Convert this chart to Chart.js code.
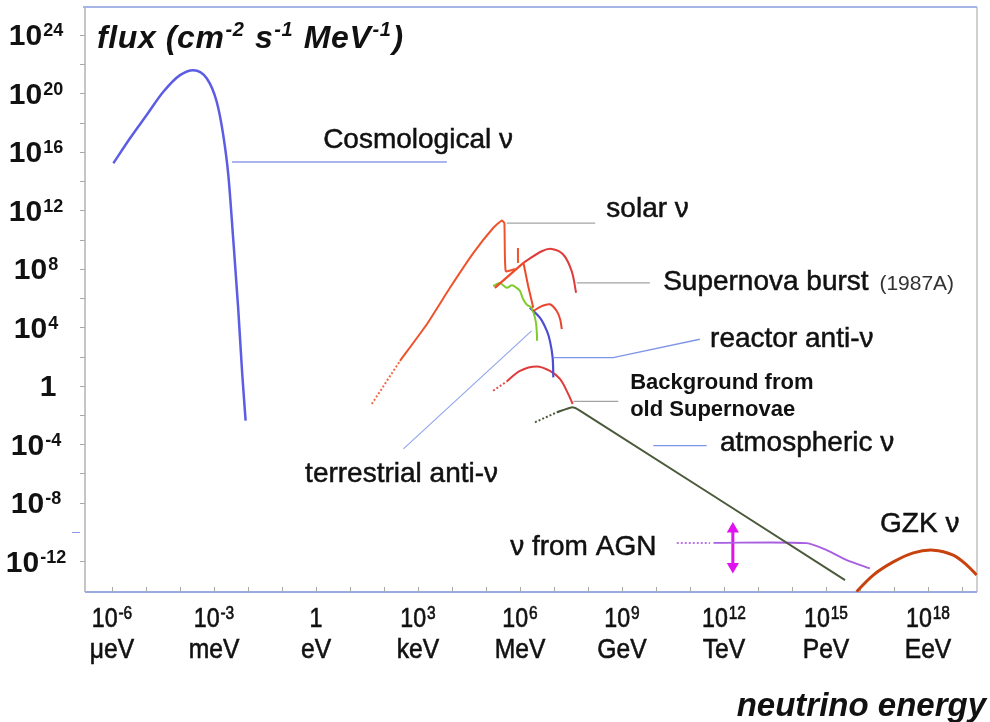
<!DOCTYPE html>
<html>
<head>
<meta charset="utf-8">
<script src="https://cdn.jsdelivr.net/npm/chart.js@4"></script>
<style>
  body { margin: 0; background: #fff; }
  #wrap { width: 990px; height: 722px; position: relative; }
</style>
</head>
<body>
<div id="wrap"><canvas id="flux-chart"></canvas></div>
<script>
// all values are [log10(E / eV), log10(flux)]

const xDecades = [-6, -3, 0, 3, 6, 9, 12, 15, 18];
const xUnits = ['\u03bceV', 'meV', 'eV', 'keV', 'MeV', 'GeV', 'TeV', 'PeV', 'EeV'];
const yDecades = [24, 20, 16, 12, 8, 4, 0, -4, -8, -12];

const cosmological = [[-5.96, 15.22], [-5.47, 16.93], [-4.98, 18.52], [-4.49, 20.11], [-4.0, 21.25],
  [-3.61, 21.59], [-3.21, 21.02], [-2.92, 19.43], [-2.73, 17.18], [-2.58, 14.45], [-2.43, 9.89],
  [-2.29, 5.34], [-2.17, 0.82], [-2.07, -2.39]];

const solarDotted = [[1.64, -1.25], [2.47, 1.70]];
const solar = [[2.47, 1.70], [3.26, 4.21], [3.94, 6.70], [4.63, 9.09], [5.21, 10.79], [5.46, 11.30],
  [5.54, 11.13], [5.58, 7.84], [5.85, 7.98]];
const solarBe = [[5.94, 9.43], [5.94, 8.39]];
const solarLow = [[5.26, 6.70], [6.10, 8.41]];
const solarB8 = [[6.10, 8.41], [6.24, 6.82], [6.39, 5.34]];

const supernova = [[6.10, 8.41], [6.64, 9.20], [6.93, 9.36], [7.27, 8.98], [7.52, 7.84], [7.65, 6.36]];
const supernovaSmall = [[6.39, 5.11], [6.64, 5.45], [6.88, 5.57], [7.08, 5.11], [7.18, 4.55], [7.23, 3.87]];

const terrestrial = [[5.21, 6.82], [5.41, 7.02], [5.61, 6.70], [5.76, 6.87], [5.90, 6.70], [6.0, 6.48],
  [6.09, 5.93], [6.21, 5.52], [6.32, 5.39], [6.41, 4.91], [6.47, 4.30], [6.5, 3.41], [6.5, 3.07]];

const reactor = [[6.29, 5.34], [6.59, 4.64], [6.79, 3.75], [6.88, 3.07], [6.96, 1.93], [6.98, 0.57]];

const relicDotted = [[5.21, -0.34], [5.61, 0.29]];
const relic = [[5.61, 0.29], [6.0, 1.02], [6.49, 1.32], [6.88, 1.02], [7.18, 0.46], [7.42, -0.57], [7.55, -1.25]];

const atmosDotted = [[6.44, -2.50], [7.08, -1.82]];
const atmos = [[7.08, -1.82], [7.52, -1.48], [7.76, -1.70], [15.56, -13.30]];

const agnDotted = [[10.61, -10.75], [11.59, -10.75]];
const agn = [[11.69, -10.75], [14.43, -10.77], [15.02, -11.25], [15.61, -11.93], [16.29, -12.50]];
const agnRange = [[12.26, -9.80], [12.26, -12.36]];

const gzk = [[15.90, -14.09], [16.39, -12.95], [16.98, -12.05], [17.57, -11.43], [18.16, -11.25],
  [18.74, -11.59], [19.14, -12.27], [19.43, -12.95]];

// leader lines from curves to their labels
const leadCosmo = [[-2.47, 15.31], [3.85, 15.31]];
const leadSolar = [[5.61, 11.13], [8.21, 11.13]];
const leadSupernova = [[7.67, 7.04], [9.82, 7.04]];
const leadReactor = [[6.98, 1.93], [8.74, 1.93], [11.29, 3.18]];
const leadTerrestrial = [[2.57, -4.32], [6.34, 3.75]];
const leadRelic = [[7.57, -1.07], [8.89, -1.07]];
const leadAtmos = [[9.92, -4.09], [11.49, -4.09]];

const labels = [
  { text: 'Cosmological \u03bd', at: [0.21, 16.25] },
  { text: 'solar \u03bd', at: [8.54, 11.52] },
  { text: 'Supernova burst', at: [10.21, 6.52], extra: '(1987A)' },
  { text: 'reactor anti-\u03bd', at: [11.59, 2.66] },
  { text: 'Background from', at: [9.24, -0.22], bold: true },
  { text: 'old Supernovae', at: [9.24, -2.05], bold: true },
  { text: 'atmospheric \u03bd', at: [11.88, -4.43] },
  { text: 'terrestrial anti-\u03bd', at: [-0.32, -6.61] },
  { text: '\u03bd from AGN', at: [5.71, -11.59] },
  { text: 'GZK \u03bd', at: [16.59, -10.02] }
];

const toPoints = arr => arr.map(p => ({ x: Math.pow(10, p[0]), y: Math.pow(10, p[1]) }));

function line(data, color, width, opts = {}) {
  return Object.assign({
    data: toPoints(data),
    showLine: true,
    borderColor: color,
    borderWidth: width,
    pointRadius: 0,
    tension: 0.35,
    fill: false
  }, opts);
}

const dotted = { borderDash: [2, 2], tension: 0 };
const straight = { tension: 0 };

const datasets = [
  line(leadCosmo, '#8f9be8', 1.5, straight),
  line(leadSolar, '#a3a3a3', 1.3, straight),
  line(leadSupernova, '#a3a3a3', 1.3, straight),
  line(leadReactor, '#7f95e6', 1.3, straight),
  line(leadTerrestrial, '#8ea3ee', 1.1, straight),
  line(leadRelic, '#a3a3a3', 1.3, straight),
  line(leadAtmos, '#7f95e6', 1.3, straight),
  line(cosmological, '#5c5ce4', 2.5, { cubicInterpolationMode: 'monotone' }),
  line(solarDotted, '#f06a4a', 2, dotted),
  line(solar, '#f0532c', 2, { tension: 0.15 }),
  line(solarBe, '#f0532c', 2, straight),
  line(solarLow, '#ec4a2a', 2.2, straight),
  line(solarB8, '#ec4a2a', 2, straight),
  line(supernova, '#e03a3a', 2),
  line(supernovaSmall, '#e84530', 2),
  line(terrestrial, '#7fcc2e', 2, { tension: 0.3 }),
  line(reactor, '#4d4dd2', 2.2),
  line(relicDotted, '#e05050', 2, dotted),
  line(relic, '#e03a3a', 2),
  line(atmosDotted, '#4a5a3a', 2, dotted),
  line(atmos, '#4a5a3a', 2, { tension: 0.2 }),
  line(agnDotted, '#b878ea', 2, dotted),
  line(agn, '#a85ee0', 1.8, { tension: 0.25 }),
  line(agnRange, '#e012f0', 3, straight),
  Object.assign(line(agnRange, '#e012f0', 0, straight), {
    showLine: false, pointStyle: 'triangle', pointRadius: 7,
    pointBackgroundColor: '#e012f0', pointBorderWidth: 0, pointRotation: [0, 180]
  }),
  line(gzk, '#c8420e', 3)
];

// draws "10" with a raised exponent, centred on x; squeeze < 1 narrows the glyphs
function drawSup(ctx, x, y, base, sup, baseFont, supFont, supRise, squeeze = 1, heavy = false) {
  ctx.save();
  ctx.translate(x, y);
  ctx.scale(squeeze, 1);
  ctx.font = baseFont;
  const wb = ctx.measureText(base).width;
  ctx.font = supFont;
  const ws = sup ? ctx.measureText(sup).width + 1 : 0;
  const left = -(wb + ws) / 2;
  ctx.textAlign = 'left';
  ctx.lineWidth = 0.6;
  ctx.strokeStyle = ctx.fillStyle;
  ctx.font = baseFont;
  ctx.fillText(base, left, 0);
  if (heavy) ctx.strokeText(base, left, 0);
  if (sup) {
    ctx.font = supFont;
    ctx.fillText(sup, left + wb + 1, -supRise);
    if (heavy) ctx.strokeText(sup, left + wb + 1, -supRise);
  }
  ctx.restore();
}

const decor = {
  id: 'decor',
  beforeDatasetsDraw(chart) {
    const { ctx, chartArea: a, scales } = chart;
    ctx.save();
    // frame
    ctx.lineWidth = 1.5;
    ctx.strokeStyle = '#b2b2b2';
    ctx.beginPath(); ctx.moveTo(a.left, a.top); ctx.lineTo(a.left, a.bottom); ctx.stroke();
    ctx.strokeStyle = '#c0c0c0';
    ctx.beginPath(); ctx.moveTo(a.right, a.top); ctx.lineTo(a.right, a.bottom); ctx.stroke();
    ctx.lineWidth = 2;
    ctx.strokeStyle = '#a7b4e8';
    ctx.beginPath(); ctx.moveTo(a.left - 2, a.top); ctx.lineTo(a.right, a.top); ctx.stroke();
    ctx.strokeStyle = '#9daadf';
    ctx.beginPath(); ctx.moveTo(a.left, a.bottom); ctx.lineTo(a.right, a.bottom); ctx.stroke();

    // y ticks every two decades
    ctx.lineWidth = 1;
    for (let d = -12; d <= 24; d += 2) {
      const py = Math.round(scales.y.getPixelForValue(Math.pow(10, d))) + 0.5;
      ctx.strokeStyle = d === -10 ? '#8a9ae0' : '#a8a8a8';
      ctx.beginPath(); ctx.moveTo(a.left - (d === -10 ? 13 : 5), py); ctx.lineTo(a.left - (d === -10 ? 5 : 0), py); ctx.stroke();
    }
    // x ticks every decade
    ctx.strokeStyle = '#a8a8a8';
    for (let d = -6; d <= 19; d++) {
      const px = Math.round(scales.x.getPixelForValue(Math.pow(10, d))) + 0.5;
      ctx.beginPath(); ctx.moveTo(px, a.bottom - 5); ctx.lineTo(px, a.bottom); ctx.stroke();
    }
    ctx.restore();
  },
  afterDatasetsDraw(chart) {
    const { ctx, chartArea: a, scales } = chart;
    ctx.save();
    ctx.fillStyle = '#111';
    ctx.textBaseline = 'alphabetic';

    // y tick labels
    yDecades.forEach(d => {
      const py = scales.y.getPixelForValue(Math.pow(10, d)) + 10.5;
      if (d === 0) {
        drawSup(ctx, 48, py, '1', '', 'bold 30px "Liberation Sans", Arial', 'bold 18px "Liberation Sans"', 0);
      } else {
        drawSup(ctx, 36, py, '10', String(d), 'bold 30px "Liberation Sans", Arial', 'bold 18px "Liberation Sans", Arial', 9);
      }
    });

    // x tick labels and unit names, in a narrowed sans
    const sans = '"Liberation Sans", Arial';
    xDecades.forEach((d, i) => {
      const px = scales.x.getPixelForValue(Math.pow(10, d));
      if (d === 0) {
        drawSup(ctx, px, a.bottom + 35, '1', '', '27px ' + sans, '18px ' + sans, 0, 0.86, true);
      } else {
        drawSup(ctx, px, a.bottom + 35, '10', String(d), '27px ' + sans, '18px ' + sans, 8, 0.86, true);
      }
      drawSup(ctx, px, a.bottom + 66, xUnits[i], '', '28px ' + sans, '18px ' + sans, 0, 0.88, true);
    });

    // axis titles
    ctx.textAlign = 'left';
    ctx.letterSpacing = '0.6px';
    let tx = a.left + 12;
    const tb = a.top + 41;
    const tf = 'italic bold 32px "Liberation Sans", Arial';
    const sf = 'italic bold 20px "Liberation Sans", Arial';
    [['flux (cm', '-2'], [' s', '-1'], [' MeV', '-1'], [')', '']].forEach(([b, s]) => {
      ctx.font = tf; ctx.fillText(b, tx, tb); tx += ctx.measureText(b).width + 1;
      if (s) { ctx.font = sf; ctx.fillText(s, tx, tb - 12); tx += ctx.measureText(s).width + 1; }
    });
    ctx.letterSpacing = '0px';
    ctx.font = 'italic bold 33px "Liberation Sans", Arial';
    ctx.textAlign = 'right';
    ctx.fillText('neutrino energy', 986, 716);

    // curve labels
    ctx.textAlign = 'left';
    ctx.lineWidth = 0.5;
    labels.forEach(l => {
      const px = scales.x.getPixelForValue(Math.pow(10, l.at[0]));
      const py = scales.y.getPixelForValue(Math.pow(10, l.at[1]));
      ctx.font = l.bold ? 'bold 22px "Liberation Sans", Arial' : '28px "Liberation Sans", Arial';
      ctx.fillStyle = '#111';
      ctx.strokeStyle = '#111';
      ctx.fillText(l.text, px, py);
      if (!l.bold) ctx.strokeText(l.text, px, py);
      if (l.extra) {
        const w = ctx.measureText(l.text + ' ').width;
        ctx.font = '21px "Liberation Sans", Arial';
        ctx.fillStyle = '#333';
        ctx.fillText(l.extra, px + w + 3, py);
      }
    });
    ctx.restore();
  }
};

new Chart(document.getElementById('flux-chart'), {
  type: 'scatter',
  data: { datasets },
  options: {
    responsive: true,
    maintainAspectRatio: false,
    animation: false,
    layout: { padding: { left: 85, top: 5, right: 13, bottom: 130 } },
    plugins: { legend: { display: false }, tooltip: { enabled: false } },
    scales: {
      x: { type: 'logarithmic', display: false, min: Math.pow(10, -6.794), max: Math.pow(10, 19.441) },
      y: { type: 'logarithmic', display: false, min: Math.pow(10, -14.11), max: Math.pow(10, 25.91) }
    }
  },
  plugins: [decor]
});
</script>
</body>
</html>
